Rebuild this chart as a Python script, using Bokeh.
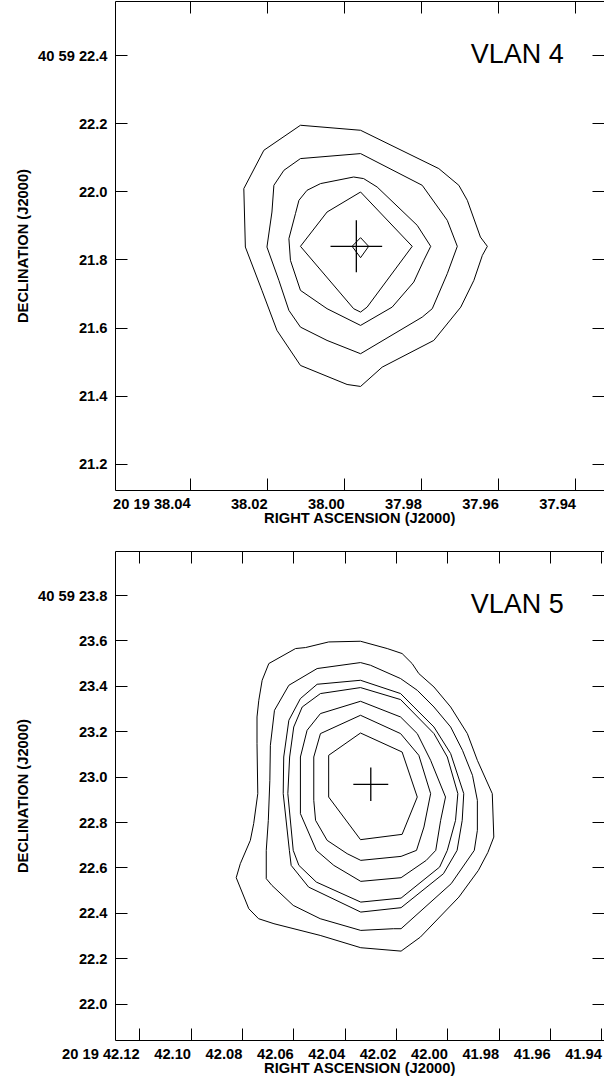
from bokeh.plotting import figure
from bokeh.models import Range1d, FixedTicker, LinearAxis, Label
from bokeh.layouts import column
from bokeh.embed import file_html
from bokeh.resources import INLINE

FONT = "Liberation Sans"
NAME_FONT = "Liberation Sans"

# ---------------- VLAN 4 ----------------
v4_ra_ticks = [38.04, 38.02, 38.00, 37.98, 37.96, 37.94]
v4_ra_labels = ["20 19 38.04", "38.02", "38.00", "37.98", "37.96", "37.94"]
v4_dec_ticks = [22.4, 22.2, 22.0, 21.8, 21.6, 21.4, 21.2]
v4_dec_labels = ["40 59 22.4", "22.2", "22.0", "21.8", "21.6", "21.4", "21.2"]
v4_ra_range = (38.0595, 37.9326)
v4_dec_range = (21.1227, 22.5593)

v4_c1_ra = [38.0115, 37.9959, 37.9756, 37.9704, 37.9682, 37.9648, 37.9630, 37.9643, 37.9665, 37.9699,
            37.9769, 37.9903, 37.9959, 37.9994, 38.0115, 38.0176, 38.0215, 38.0258, 38.0262, 38.0210]
v4_c1_dec = [22.1957, 22.1810, 22.0684, 22.0193, 21.9752, 21.8673, 21.8400, 21.8135, 21.7400, 21.6615,
             21.5636, 21.4851, 21.4284, 21.4342, 21.4901, 21.5930, 21.7106, 21.8379, 22.0096, 22.1222]
v4_c2_ra = [38.0115, 37.9959, 37.9799, 37.9734, 37.9708, 37.9734, 37.9773, 37.9799, 37.9959, 38.0046,
            38.0115, 38.0145, 38.0171, 38.0202, 38.0189, 38.0184, 38.0158]
v4_c2_dec = [22.0978, 22.1125, 22.0193, 21.9164, 21.8400, 21.7597, 21.6568, 21.6321, 21.5245, 21.5636,
             21.6027, 21.6518, 21.7400, 21.8379, 21.9408, 22.0193, 22.0634]
v4_c3_ra = [38.0098, 38.0063, 37.9977, 37.9951, 37.9916, 37.9812, 37.9777, 37.9795, 37.9821, 37.9877,
            37.9959, 38.0046, 38.0115, 38.0141, 38.0145, 38.0128, 38.0119]
v4_c3_dec = [22.0046, 22.0243, 22.0437, 22.0390, 22.0143, 21.9017, 21.8400, 21.7988, 21.7350, 21.6615,
             21.6077, 21.6568, 21.7106, 21.7988, 21.8626, 21.9361, 21.9752]
v4_c4_ra = [37.9959, 37.9825, 37.9942, 37.9959, 37.9977, 38.0115, 38.0046]
v4_c4_dec = [21.9996, 21.8400, 21.6615, 21.6468, 21.6568, 21.8400, 21.9408]
v4_c5_ra = [37.9959, 37.9938, 37.9959, 37.9981]
v4_c5_dec = [21.8655, 21.8400, 21.8067, 21.8400]
v4_cross = {"ra": 37.9970, "dec": 21.8400, "dra": 0.0067, "ddec": 0.0764}
v4_name = {"text": "VLAN 4", "ra": 37.9673, "dec": 22.404}

# ---------------- VLAN 5 ----------------
v5_ra_ticks = [42.12, 42.10, 42.08, 42.06, 42.04, 42.02, 42.00, 41.98, 41.96, 41.94]
v5_ra_labels = ["20 19 42.12", "42.10", "42.08", "42.06", "42.04", "42.02", "42.00", "41.98", "41.96", "41.94"]
v5_dec_ticks = [23.8, 23.6, 23.4, 23.2, 23.0, 22.8, 22.6, 22.4, 22.2, 22.0]
v5_dec_labels = ["40 59 23.8", "23.6", "23.4", "23.2", "23.0", "22.8", "22.6", "22.4", "22.2", "22.0"]
v5_ra_range = (42.1294, 41.9390)
v5_dec_range = (21.8400, 23.9939)

v5_c1_ra = [42.0340, 42.0236, 42.0178, 42.0139, 42.0113, 42.0054, 41.9989, 41.9924, 41.9885, 41.9827,
            41.9821, 41.9844, 41.9881, 41.9957, 42.0107, 42.0182, 42.0339, 42.0497, 42.0677, 42.0737,
            42.0775, 42.0824, 42.0808, 42.0769, 42.0756, 42.0740, 42.0743, 42.0743, 42.0736, 42.0723,
            42.0697, 42.0593, 42.0554, 42.0464]
v5_c1_dec = [23.5986, 23.5664, 23.5444, 23.5003, 23.4562, 23.3972, 23.3090, 23.1918, 23.0741, 22.9274,
             22.7361, 22.6687, 22.5893, 22.4717, 22.2954, 22.2337, 22.2487, 22.3029, 22.3544, 22.3765,
             22.4205, 22.5572, 22.6189, 22.7216, 22.7952, 22.9274, 23.1477, 23.2650, 23.3386, 23.4267,
             23.5003, 23.5664, 23.5708, 23.5955]
v5_c2_ra = [42.0340, 42.0301, 42.0184, 42.0119, 42.0054, 41.9989, 41.9943, 41.9904, 41.9885, 41.9885,
            41.9897, 41.9987, 42.0182, 42.0212, 42.0339, 42.0497, 42.0602, 42.0685, 42.0707, 42.0707,
            42.0699, 42.0693, 42.0691, 42.0675, 42.0619, 42.0509]
v5_c2_dec = [23.5047, 23.4928, 23.4342, 23.3826, 23.3090, 23.2209, 23.1182, 23.0080, 22.8978, 22.7656,
             22.6775, 22.5307, 22.3324, 22.3324, 22.3249, 22.3765, 22.4351, 22.5232, 22.5528, 22.6775,
             22.8097, 22.9860, 23.1402, 23.2945, 23.4047, 23.4783]
v5_c3_ra = [42.0340, 42.0184, 42.0132, 42.0054, 41.9989, 41.9938, 41.9944, 41.9964, 42.0017, 42.0182,
            42.0339, 42.0542, 42.0610, 42.0617, 42.0641, 42.0639, 42.0619, 42.0574, 42.0509]
v5_c3_dec = [23.4267, 23.3681, 23.3090, 23.2209, 23.1037, 22.9274, 22.8097, 22.6775, 22.5748, 22.4250,
             22.4056, 22.5157, 22.6114, 22.6775, 22.9274, 23.0887, 23.2504, 23.3461, 23.4091]
v5_c4_ra = [42.0340, 42.0184, 42.0054, 42.0002, 41.9961, 41.9970, 42.0002, 42.0032, 42.0182, 42.0339,
            42.0512, 42.0580, 42.0602, 42.0623, 42.0616, 42.0600, 42.0567, 42.0496]
v5_c4_dec = [23.3945, 23.3417, 23.1918, 23.0887, 22.9274, 22.8097, 22.6775, 22.6039, 22.4673, 22.4496,
             22.5378, 22.6114, 22.6775, 22.9274, 23.0887, 23.2209, 23.3090, 23.3681]
v5_c5_ra = [42.0340, 42.0184, 42.0119, 42.0067, 42.0009, 42.0028, 42.0047, 42.0084, 42.0182, 42.0339,
            42.0444, 42.0512, 42.0574, 42.0574, 42.0548, 42.0496]
v5_c5_dec = [23.3342, 23.2650, 23.1918, 23.0741, 22.9124, 22.8097, 22.6775, 22.6334, 22.5572, 22.5409,
             22.6114, 22.6775, 22.8392, 23.0887, 23.2064, 23.2800]
v5_c6_ra = [42.0340, 42.0184, 42.0113, 42.0067, 42.0093, 42.0122, 42.0182, 42.0339, 42.0392, 42.0470,
            42.0515, 42.0522, 42.0522, 42.0496]
v5_c6_dec = [23.2725, 23.1918, 23.0962, 22.9274, 22.7802, 22.6775, 22.6510, 22.6334, 22.6629, 22.7216,
             22.8097, 22.8978, 23.0887, 23.1918]
v5_c7_ra = [42.0340, 42.0178, 42.0119, 42.0178, 42.0340, 42.0464, 42.0464]
v5_c7_dec = [23.1944, 23.1107, 22.9124, 22.7480, 22.7246, 22.9124, 23.0962]
v5_cross = {"ra": 42.0300, "dec": 22.9684, "dra": 0.0068, "ddec": 0.0736}
v5_name = {"text": "VLAN 5", "ra": 41.9911, "dec": 23.7617}


def style_axis(ax, ticks, labels=None, show_line=True):
    ax.ticker = FixedTicker(ticks=ticks, minor_ticks=[])
    ax.major_tick_in = 12
    ax.major_tick_out = 0
    ax.minor_tick_in = 0
    ax.minor_tick_out = 0
    ax.major_tick_line_color = "black"
    ax.major_tick_line_width = 1
    ax.axis_line_color = "black" if show_line else None
    ax.axis_line_width = 1
    ax.major_label_text_font = FONT
    ax.major_label_text_font_style = "bold"
    ax.major_label_text_font_size = "14.7px"
    ax.axis_label_text_font = FONT
    ax.axis_label_text_font_style = "bold"
    ax.axis_label_text_font_size = "14.7px"
    ax.axis_label_text_color = "black"
    if labels is None:
        ax.major_label_text_color = None
        ax.major_label_standoff = 0
    else:
        ax.major_label_text_color = "black"
        ax.major_label_overrides = dict(zip(ticks, labels))


def panel(height, btop, bbottom, ra_range, dec_range, ra_ticks, ra_labels, dec_ticks, dec_labels,
          contours_ra, contours_dec, cross, name):
    p = figure(width=604, height=height, x_range=Range1d(*ra_range), y_range=Range1d(*dec_range),
               output_backend="svg", toolbar_location=None,
               min_border_left=115, min_border_right=0, min_border_top=btop, min_border_bottom=bbottom)
    p.outline_line_color = None
    p.background_fill_color = "white"
    p.border_fill_color = "white"
    p.xgrid.visible = False
    p.ygrid.visible = False

    xb = p.xaxis[0]
    style_axis(xb, ra_ticks, ra_labels)
    xb.major_label_orientation = 1e-6
    xb.major_label_standoff = 13
    xb.axis_label = "RIGHT ASCENSION (J2000)"
    xb.axis_label_standoff = -13

    yl = p.yaxis[0]
    style_axis(yl, dec_ticks, dec_labels)
    yl.major_label_standoff = 8
    yl.axis_label = "DECLINATION (J2000)"
    yl.axis_label_standoff = 4

    xt = LinearAxis()
    style_axis(xt, ra_ticks)
    p.add_layout(xt, "above")
    yr = LinearAxis()
    style_axis(yr, dec_ticks, show_line=False)
    p.add_layout(yr, "right")

    p.patches(xs=contours_ra, ys=contours_dec, fill_color=None, line_color="black", line_width=1)
    cx, cy, dx, dy = cross["ra"], cross["dec"], cross["dra"], cross["ddec"]
    p.segment(x0=[cx - dx, cx], y0=[cy, cy - dy], x1=[cx + dx, cx], y1=[cy, cy + dy],
              line_color="black", line_width=1.3)
    p.add_layout(Label(x=name["ra"], y=name["dec"], text=name["text"], text_font=NAME_FONT,
                       text_font_size="27px", text_color="black", text_baseline="alphabetic",
                       text_align="left"))
    return p


p1 = panel(546, 1, 56, v4_ra_range, v4_dec_range, v4_ra_ticks, v4_ra_labels, v4_dec_ticks, v4_dec_labels,
           [v4_c1_ra, v4_c2_ra, v4_c3_ra, v4_c4_ra, v4_c5_ra],
           [v4_c1_dec, v4_c2_dec, v4_c3_dec, v4_c4_dec, v4_c5_dec], v4_cross, v4_name)
p2 = panel(536, 5, 42, v5_ra_range, v5_dec_range, v5_ra_ticks, v5_ra_labels, v5_dec_ticks, v5_dec_labels,
           [v5_c1_ra, v5_c2_ra, v5_c3_ra, v5_c4_ra, v5_c5_ra, v5_c6_ra, v5_c7_ra],
           [v5_c1_dec, v5_c2_dec, v5_c3_dec, v5_c4_dec, v5_c5_dec, v5_c6_dec, v5_c7_dec], v5_cross, v5_name)

layout = column(p1, p2)

open("out.html", "w").write(file_html(layout, INLINE))
